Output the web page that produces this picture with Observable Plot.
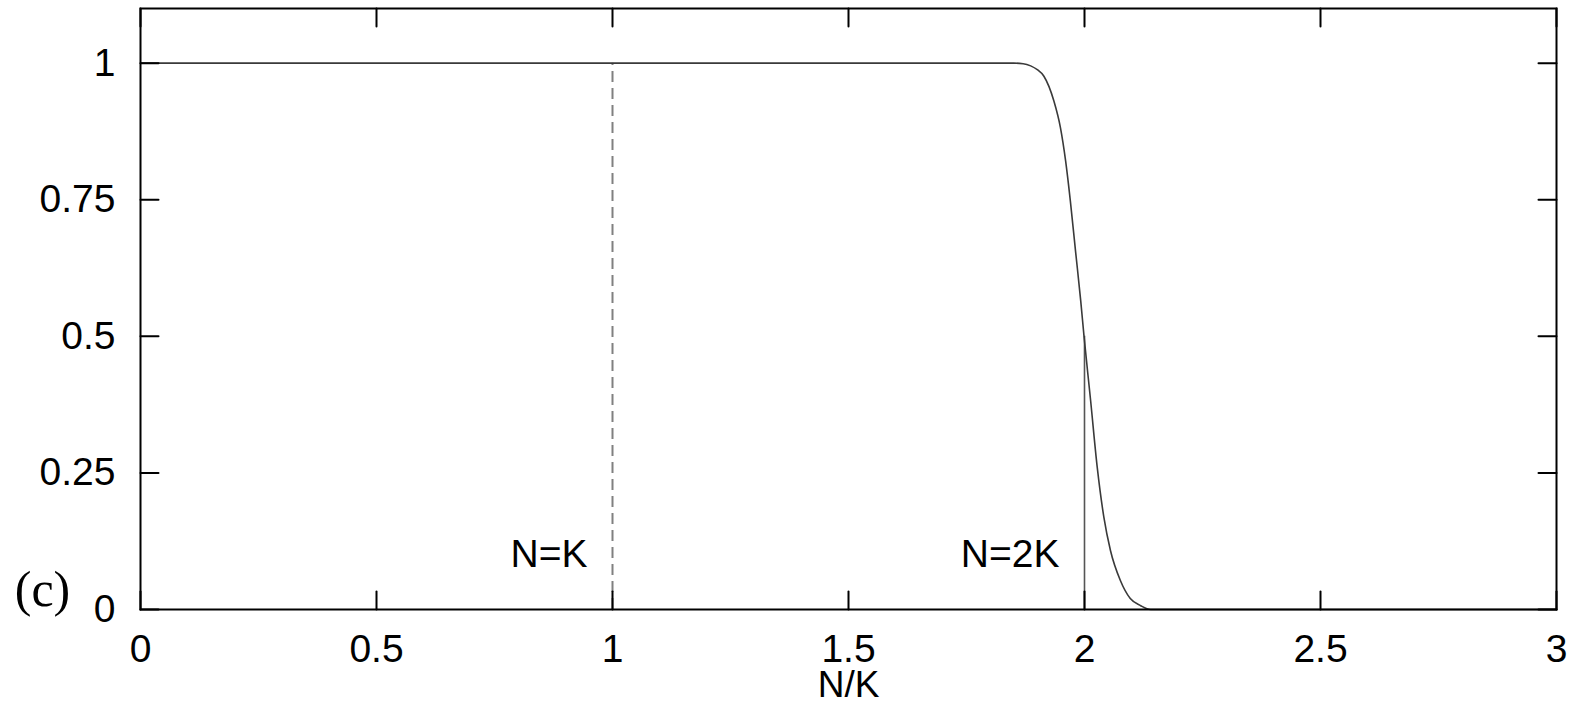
<!DOCTYPE html>
<html>
<head>
<meta charset="utf-8">
<script src="https://cdn.jsdelivr.net/npm/d3@7"></script>
<script src="https://cdn.jsdelivr.net/npm/@observablehq/plot@0.6"></script>
<style>
  html, body { margin: 0; padding: 0; background: #fff; }
  #chart svg { display: block; }
</style>
</head>
<body>
<div id="chart"></div>
<script>
// Tick values / labels
const xTicks = [0, 0.5, 1, 1.5, 2, 2.5, 3];
const xTickLabels = ["0", "0.5", "1", "1.5", "2", "2.5", "3"];
const yTicks = [0, 0.25, 0.5, 0.75, 1];
const yTickLabels = ["0", "0.25", "0.5", "0.75", "1"];

// Curve
const curveX = [0, 1.85, 1.87, 1.886, 1.9, 1.914, 1.935, 1.949, 1.960, 1.970, 1.981, 1.992, 1.999, 2.013, 2.027, 2.041, 2.055, 2.076, 2.097, 2.119, 2.14, 3];
const curveY = [1, 1, 0.999, 0.995, 0.988, 0.976, 0.931, 0.882, 0.821, 0.748, 0.656, 0.565, 0.5, 0.382, 0.26, 0.169, 0.108, 0.053, 0.02, 0.007, 0, 0];

// Reference lines and annotations
const markerX = [1, 2];
const markerTop = [1, 0.5];
const markerLabels = ["N=K", "N=2K"];
const markerLabelY = [0.1, 0.1];
const xLabel = "N/K";
const panelLabel = "(c)";

const curve = curveX.map((x, i) => ({x, y: curveY[i]}));
const markers = markerX.map((x, i) => ({x, top: markerTop[i], label: markerLabels[i], ly: markerLabelY[i]}));

const tickShape = {draw(context, l) { context.moveTo(0, 0); context.lineTo(0, -l); }};
const sans = "'Liberation Sans', Arial, Helvetica, sans-serif";

const plot = Plot.plot({
  width: 1570,
  height: 704,
  marginLeft: 140,
  marginRight: 14,
  marginTop: 8,
  marginBottom: 95,
  style: {fontFamily: sans, background: "#fff", color: "#000"},
  x: {domain: [0, 3]},
  y: {domain: [0, 1.1]},
  marks: [
    Plot.ruleX([markers[0]], {x: "x", y1: 0, y2: "top", stroke: "#808080", strokeWidth: 2, strokeDasharray: "11,6"}),
    Plot.ruleX([markers[1]], {x: "x", y1: 0, y2: "top", stroke: "#555", strokeWidth: 1.6}),
    Plot.line(curve, {x: "x", y: "y", curve: "monotone-x", stroke: "#3a3a3a", strokeWidth: 1.6}),
    Plot.text(markers, {x: "x", y: "ly", text: "label", textAnchor: "end", dx: -25, fontSize: 39, fill: "#000"}),
    // ticks (inward, mirrored)
    Plot.vector(xTicks, {x: d => d, frameAnchor: "bottom", length: 18, anchor: "start", rotate: 0, shape: tickShape, stroke: "#000", strokeWidth: 2}),
    Plot.vector(xTicks, {x: d => d, frameAnchor: "top", length: 18, anchor: "start", rotate: 180, shape: tickShape, stroke: "#000", strokeWidth: 2}),
    Plot.vector(yTicks, {y: d => d, frameAnchor: "left", length: 18, anchor: "start", rotate: 90, shape: tickShape, stroke: "#000", strokeWidth: 2}),
    Plot.vector(yTicks, {y: d => d, frameAnchor: "right", length: 18, anchor: "start", rotate: -90, shape: tickShape, stroke: "#000", strokeWidth: 2}),
    Plot.axisX({ticks: xTicks, tickFormat: (d, i) => xTickLabels[i], tickSize: 0, tickPadding: 25, fontSize: 39, label: null}),
    Plot.axisY({ticks: yTicks, tickFormat: (d, i) => yTickLabels[i], tickSize: 0, tickPadding: 25, fontSize: 39, label: null}),
    Plot.frame({stroke: "#000", strokeWidth: 2}),
    Plot.text([xLabel], {text: d => d, frameAnchor: "bottom", dy: 76, fontSize: 37, lineAnchor: "middle", fill: "#000"}),
    Plot.text([panelLabel], {text: d => d, frameAnchor: "bottom-left", dx: -98, dy: -20, fontSize: 50, lineAnchor: "middle", textAnchor: "middle", fontFamily: "'Liberation Serif', 'DejaVu Serif', serif", fill: "#000"})
  ]
});
document.getElementById("chart").appendChild(plot);
</script>
</body>
</html>
